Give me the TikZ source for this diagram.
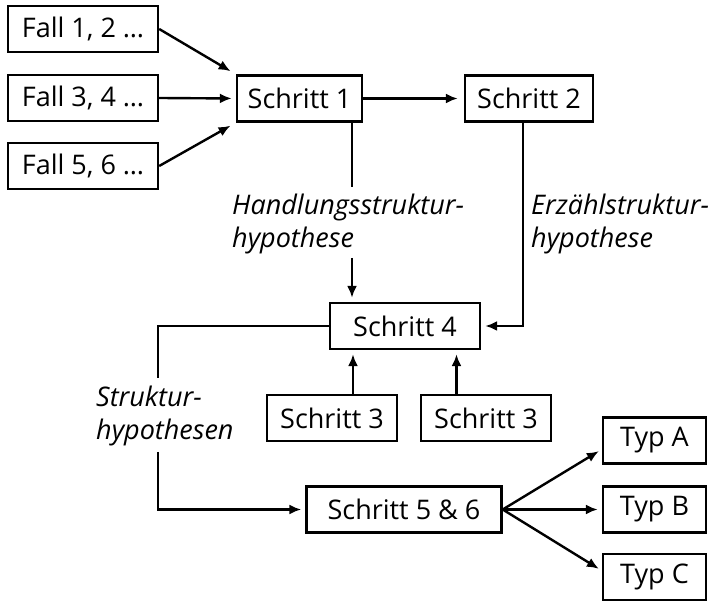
\documentclass[tikz,border=0pt]{standalone}
\usepackage{fontspec}
\setmainfont{Open Sans}
\usetikzlibrary{arrows.meta}
\tikzset{
  box/.style={draw, line width=2.4pt, minimum height=46pt, inner sep=0pt, font=\fontsize{27}{32}\selectfont},
  arr/.style={line width=2.4pt, -{Latex[length=12pt,width=10pt]}, shorten >=4pt},
  ln/.style={line width=2.4pt},
  lbl/.style={anchor=west, align=left, inner sep=0pt, font=\fontsize{27}{33}\selectfont\itshape}
}
\begin{document}
\begin{tikzpicture}[x=1pt,y=-1pt]
\useasboundingbox (0,0) rectangle (713,601);
\node[box, minimum width=150pt] (f1) at (83,29) {Fall 1, 2 …};
\node[box, minimum width=150pt] (f2) at (83,98) {Fall 3, 4 …};
\node[box, minimum width=150pt] (f3) at (83,166) {Fall 5, 6 …};
\node[box, minimum width=125pt] (s1) at (299.5,98.5) {Schritt 1};
\node[box, minimum width=128pt] (s2) at (529,98.5) {Schritt 2};
\node[box, minimum width=150pt] (s4) at (405,326) {Schritt 4};
\node[box, minimum width=130pt] (s3a) at (332,418) {Schritt 3};
\node[box, minimum width=130pt] (s3b) at (486,418) {Schritt 3};
\node[box, minimum width=195pt] (s56) at (404,509.5) {Schritt 5 \& 6};
\node[box, minimum width=103pt] (ta) at (654.5,440.5) {Typ A};
\node[box, minimum width=103pt] (tb) at (654.5,509.5) {Typ B};
\node[box, minimum width=103pt] (tc) at (654.5,577) {Typ C};

\draw[arr, shorten >=6pt] (f1.east) -- (s1.north west);
\draw[arr] (f2.east) -- (s1.west);
\draw[arr, shorten >=6pt] (f3.east) -- (s1.south west);
\draw[arr, shorten >=6pt] (s1.east) -- (s2.west);

\coordinate (h1) at (352,187);
\coordinate (h2) at (352,258);
\draw[ln] (s1.south -| h1) -- (h1);
\draw[arr] (h2) -- (h2 |- s4.north);
\node[lbl] (hl) at (232,224) {Handlungsstruktur-\\hypothese};

\coordinate (e1) at (523,327);
\draw[arr] (s2.south -| e1) |- (s4.east);
\node[lbl] (el) at (531,224) {Erzählstruktur-\\hypothese};

\coordinate (st1) at (158,378);
\coordinate (st2) at (158,452);
\draw[ln] (s4.west) -| (st1);
\draw[arr] (st2) |- (s56.west);
\node[lbl] (sl) at (96,416) {Struktur-\\hypothesen};

\coordinate (a3) at (353,0);
\coordinate (b3) at (456.5,0);
\draw[arr] (s3a.north -| a3) -- (s4.south -| a3);
\draw[arr] (s3b.north -| b3) -- (s4.south -| b3);

\coordinate (ea) at (604,448);
\coordinate (ec) at (604,572);
\draw[arr, shorten >=6pt] (s56.east) -- (ea);
\draw[arr] (s56.east) -- (tb.west);
\draw[arr, shorten >=6pt] (s56.east) -- (ec);
\end{tikzpicture}
\end{document}
